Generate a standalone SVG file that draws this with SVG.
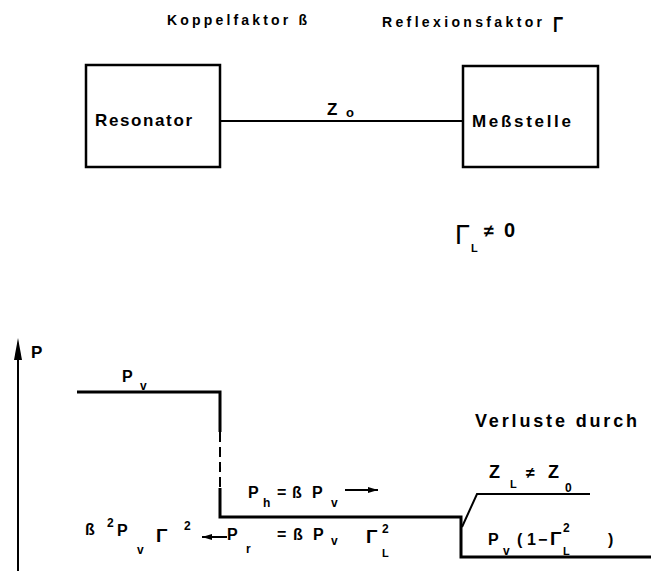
<svg xmlns="http://www.w3.org/2000/svg" width="651" height="571" viewBox="0 0 651 571">
<defs>
<style>
text{font-family:"Liberation Sans","DejaVu Sans",Arial,sans-serif;fill:#000;font-weight:bold;}
.lbl{font-size:17px;}
.hdr{font-size:14px;}
.f{font-size:16px;}
.s{font-size:12px;}
.box{fill:#fff;stroke:#000;stroke-width:2.5;}
.ln{fill:none;stroke:#000;stroke-width:2;}
.thk{fill:none;stroke:#000;stroke-width:3;}
</style>
<marker id="ah" viewBox="0 0 10 6" refX="10" refY="3" markerWidth="10" markerHeight="6" markerUnits="userSpaceOnUse" orient="auto">
<path d="M0,0 L10,3 L0,6 Z" fill="#000"/>
</marker>
</defs>
<rect width="651" height="571" fill="#fff"/>

<text class="hdr" x="167" y="25" textLength="140" lengthAdjust="spacing">Koppelfaktor ß</text>
<text class="hdr" x="382" y="27" textLength="160" lengthAdjust="spacing">Reflexionsfaktor</text>
<text x="553" y="32" style="font-size:22px" textLength="10" lengthAdjust="spacingAndGlyphs">Γ</text>

<g id="connectors">
<line class="ln" x1="220" y1="121" x2="463" y2="121"/>
<text x="327" y="115" class="lbl">Z</text>
<text x="346" y="117" style="font-size:13px">o</text>
</g>

<g id="resonator">
<rect class="box" x="86" y="65" width="134" height="102"/>
<text class="lbl" x="95" y="126" textLength="97" lengthAdjust="spacing">Resonator</text>
</g>

<g id="messstelle">
<rect class="box" x="463" y="66" width="135" height="101"/>
<text class="lbl" x="472" y="127" textLength="99" lengthAdjust="spacing">Meßstelle</text>
</g>

<g id="gammaL">
<text x="455" y="244" style="font-size:27px;font-weight:normal">Γ</text>
<text x="471" y="252" style="font-size:11px">L</text>
<text x="484" y="237" style="font-size:18px">≠</text>
<text x="504" y="237" style="font-size:20px">0</text>
</g>

<g id="power-diagram">
<line class="ln" x1="18" y1="571" x2="18" y2="352"/>
<path d="M18,338 L14,360 L22,360 Z" fill="#000"/>
<text x="31" y="358" class="lbl">P</text>

<path class="thk" d="M77,392 H220 V432"/>
<line class="ln" x1="220" y1="432" x2="220" y2="488" stroke-dasharray="10,5"/>
<path class="thk" d="M220,488 V517 H461 V557 H651"/>
<path class="ln" d="M462,527 L477,494 H590"/>

<text x="122" y="382" class="f">P</text>
<text x="140" y="390" class="s">v</text>

<text x="248" y="498" class="f">P</text>
<text x="263" y="507" class="s">h</text>
<text x="277" y="498" class="f">=</text>
<text x="292" y="498" class="f">ß</text>
<text x="312" y="498" class="f">P</text>
<text x="331" y="507" class="s">v</text>
<line class="ln" x1="345" y1="490" x2="378" y2="490" marker-end="url(#ah)"/>

<text x="85" y="535" class="f">ß</text>
<text x="107" y="527" class="s">2</text>
<text x="117" y="536" class="f">P</text>
<text x="137" y="554" class="s">v</text>
<text x="156" y="542" style="font-size:19px">Γ</text>
<text x="184" y="530" class="s">2</text>
<line class="ln" x1="227" y1="537" x2="202" y2="537" marker-end="url(#ah)"/>
<text x="227" y="540" class="f">P</text>
<text x="246" y="553" class="s">r</text>
<text x="277" y="540" class="f">=</text>
<text x="293" y="540" class="f">ß</text>
<text x="313" y="540" class="f">P</text>
<text x="331" y="545" class="s">v</text>
<text x="366" y="543" style="font-size:19px">Γ</text>
<text x="382" y="533" class="s">2</text>
<text x="382" y="557" style="font-size:11px">L</text>

<text x="475" y="427" style="font-size:18px" textLength="162" lengthAdjust="spacing">Verluste durch</text>

<text x="489" y="478" style="font-size:18px">Z</text>
<text x="510" y="488" style="font-size:11px">L</text>
<text x="526" y="478" class="f">≠</text>
<text x="548" y="478" style="font-size:18px">Z</text>
<text x="565" y="492" class="s">0</text>

<text x="488" y="545" class="f">P</text>
<text x="503" y="555" class="s">v</text>
<text x="517" y="545" class="f">(</text>
<text x="527" y="545" class="f">1</text>
<text x="538" y="545" class="f">−</text>
<text x="550" y="545" style="font-size:19px">Γ</text>
<text x="563" y="532" class="s">2</text>
<text x="563" y="555" style="font-size:11px">L</text>
<text x="608" y="545" class="f">)</text>
</g>
</svg>
